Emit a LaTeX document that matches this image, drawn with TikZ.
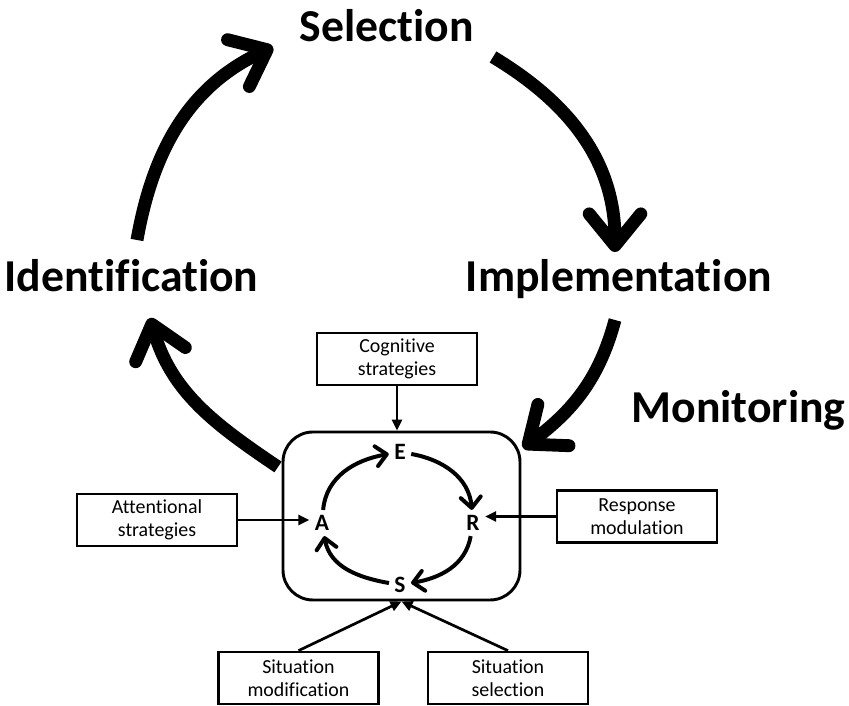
\documentclass[tikz,border=0pt]{standalone}
\usepackage{fontspec}
\setmainfont{Carlito}[Ligatures=NoCommon]
\usepackage{tikz}
\usetikzlibrary{arrows.meta, positioning}

\begin{document}
\begin{tikzpicture}[
  x=0.03cm, y=0.03cm,
  phase/.style={
    anchor=base,
    inner sep=0pt,
    font=\fontsize{39}{41}\selectfont\bfseries
  },
  strategy/.style={
    draw=black,
    line width=2.3pt,
    minimum width=4.8cm,
    minimum height=1.56cm,
    inner sep=1pt,
    align=center,
    font=\fontsize{17}{19.5}\selectfont
  },
  letter/.style={
    inner sep=4.5pt,
    font=\fontsize{20}{20}\selectfont\bfseries
  },
  hub/.style={
    draw=black,
    line width=2.5pt,
    rounded corners=0.9cm,
    minimum width=7.11cm,
    minimum height=5.04cm
  },
  stage/.style={-{Straight Barb[length=0.95cm, width=1.55cm, round]}, line width=11pt},
  ring/.style={-{Straight Barb[length=0.32cm, width=0.6cm, round]}, line width=3.4pt},
  feed/.style={-{Triangle[length=0.33cm, width=0.3cm]}, line width=2.3pt}
]
  \useasboundingbox (0,0) rectangle (849,705);

  % outer cycle
  \node[phase] (selection) at (387,663) {Selection};
  \node[phase] (identification) at (131.5,413) {Identification};
  \node[phase] (implementation) at (619,413) {Implementation};
  \node[phase] (monitoring) at (738.5,282) {Monitoring};

  \coordinate (id top) at (137,465);
  \coordinate (sel west) at (273,658);
  \coordinate (sel east) at (493,648);
  \coordinate (imp top) at (615,453);
  \coordinate (imp bottom) at (615,385);
  \coordinate (hub ne) at (523,257);
  \coordinate (hub nw) at (278,238);
  \coordinate (id bottom) at (150,387);

  \draw[stage] (id top) to[out=80,in=205] (sel west);
  \draw[stage] (sel east) to[out=-31,in=90] (imp top);
  \draw[stage] (imp bottom) to[out=255,in=37] (hub ne);
  \draw[stage] (hub nw) to[out=146,in=-74] (id bottom);

  % emotion regulation box
  \node[hub] (hub) at (401.5,189) {};
  \node[letter] (E) at (400,253) {E};
  \node[letter] (R) at (473,182) {R};
  \node[letter] (S) at (400,120) {S};
  \node[letter] (A) at (322,182) {A};

  \draw[ring] (A) to[out=85,in=190] (E);
  \draw[ring] (E) to[out=-10,in=95] (R);
  \draw[ring] (R) to[out=-100,in=10] (S);
  \draw[ring] (S) to[out=170,in=-80] (A);

  % strategies
  \node[strategy] (cog) at (397,346) {Cognitive\\strategies};
  \node[strategy] (att) at (157,185) {Attentional\\strategies};
  \node[strategy] (resp) at (637,188.5) {Response\\modulation};
  \node[strategy] (sitmod) at (298.5,27) {Situation\\modification};
  \node[strategy] (sitsel) at (508,27) {Situation\\selection};

  \draw[feed] (cog) -- (cog |- hub.north);
  \draw[feed] (att) -- (att -| A.west);
  \draw[feed] (resp) -- (resp -| R.east);
  \draw[feed] (sitmod.north) -- (hub.south);
  \draw[feed] (sitsel.north) -- (hub.south);
\end{tikzpicture}
\end{document}
